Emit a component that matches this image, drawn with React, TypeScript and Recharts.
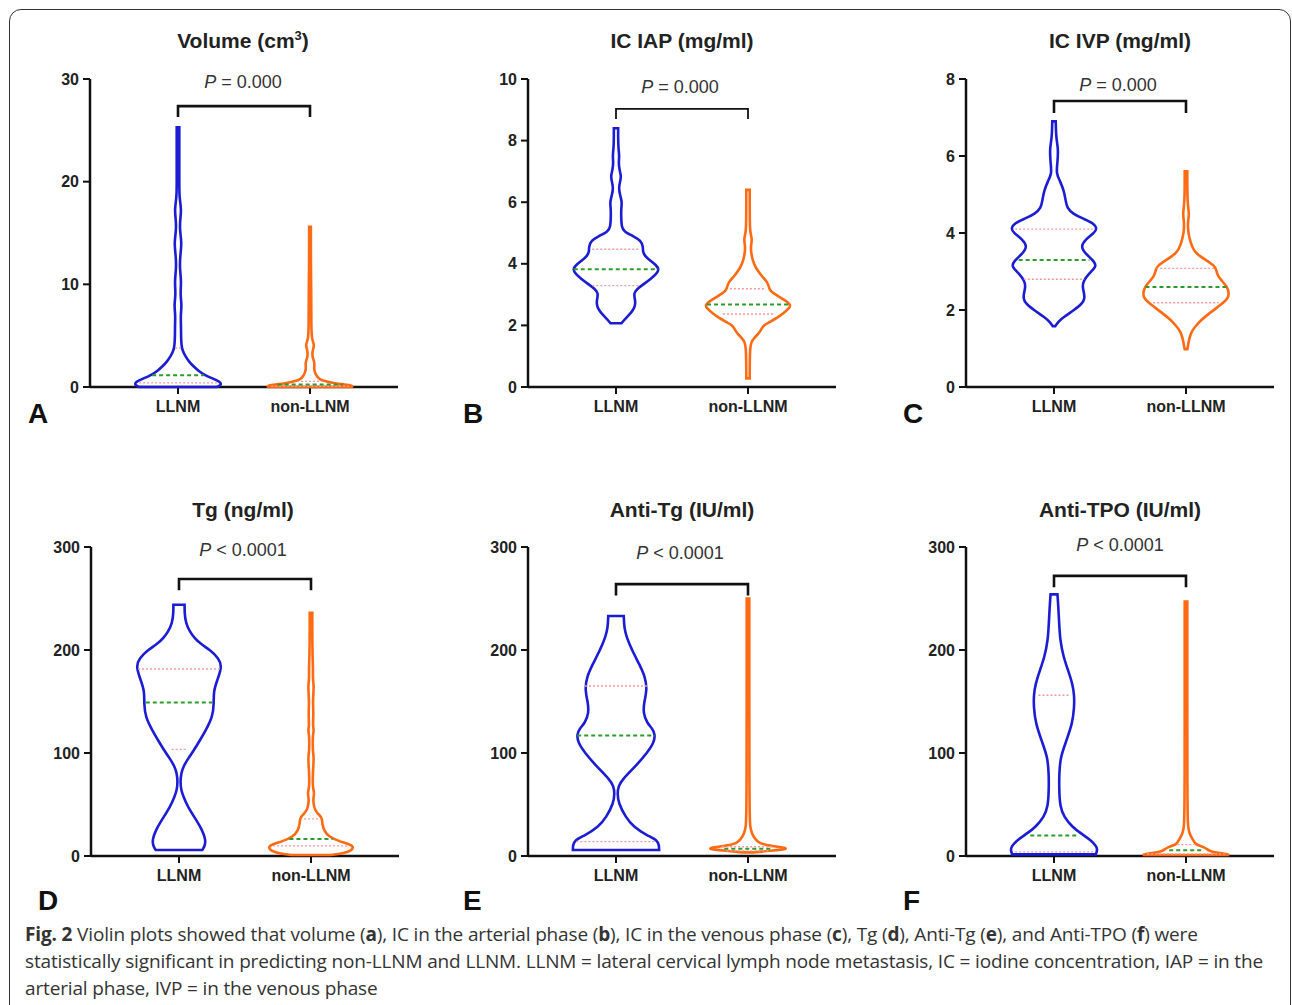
import { ScatterChart, Scatter, XAxis, YAxis } from "recharts";

const groups = ["LLNM", "non-LLNM"];
const groupX = [1, 2.5];

// violin outlines: [value, half width relative to the widest violin]
const volLLNM = [
  [0, 0.9], [0.15, 0.99], [0.45, 1.0], [0.75, 0.85], [1.15, 0.62], [1.6, 0.47], [2.0, 0.36],
  [2.5, 0.25], [3.0, 0.17], [3.5, 0.11], [4.0, 0.08], [5.0, 0.07], [6.0, 0.07], [7.0, 0.06],
  [8.0, 0.09], [9.0, 0.05], [10.3, 0.08], [11.5, 0.04], [12.8, 0.05], [14.0, 0.09], [15.3, 0.04],
  [16.3, 0.05], [17.3, 0.08], [18.5, 0.03], [20, 0.03], [22, 0.03], [25.3, 0.03],
];
const volNon = [
  [0, 0.97], [0.15, 1.0], [0.36, 0.55], [0.6, 0.3], [0.85, 0.19], [1.3, 0.12], [1.8, 0.09],
  [2.4, 0.11], [2.8, 0.06], [3.5, 0.05], [4.1, 0.11], [4.6, 0.04], [6, 0.03], [9, 0.03],
  [12, 0.02], [15.6, 0.02],
];
const iapLLNM = [
  [2.07, 0.13], [2.2, 0.2], [2.37, 0.33], [2.55, 0.42], [2.7, 0.45], [2.85, 0.44], [3.05, 0.41],
  [3.2, 0.5], [3.35, 0.65], [3.5, 0.8], [3.69, 0.95], [3.82, 1.0], [3.96, 0.93], [4.1, 0.8],
  [4.25, 0.67], [4.4, 0.62], [4.55, 0.63], [4.75, 0.58], [4.9, 0.4], [5.05, 0.18], [5.2, 0.13],
  [5.5, 0.12], [5.8, 0.12], [6.0, 0.14], [6.2, 0.1], [6.45, 0.06], [6.7, 0.1], [6.85, 0.12],
  [7.05, 0.08], [7.3, 0.06], [7.5, 0.08], [7.8, 0.05], [8.4, 0.05],
];
const iapNon = [
  [0.28, 0.04], [0.8, 0.04], [1.3, 0.05], [1.48, 0.08], [1.6, 0.15], [1.74, 0.25], [1.9, 0.32],
  [2.0, 0.36], [2.12, 0.52], [2.25, 0.68], [2.39, 0.82], [2.55, 0.95], [2.66, 1.0], [2.8, 0.88],
  [2.93, 0.72], [3.05, 0.58], [3.15, 0.5], [3.3, 0.48], [3.45, 0.42], [3.58, 0.33], [3.75, 0.24],
  [3.9, 0.17], [4.1, 0.11], [4.3, 0.08], [4.55, 0.06], [4.8, 0.1], [5.0, 0.05], [5.4, 0.04],
  [6.4, 0.04],
];
const ivpLLNM = [
  [1.58, 0.03], [1.7, 0.1], [1.82, 0.23], [2.0, 0.47], [2.17, 0.66], [2.3, 0.71], [2.43, 0.7],
  [2.6, 0.66], [2.75, 0.68], [2.95, 0.81], [3.12, 0.98], [3.25, 0.95], [3.47, 0.72], [3.65, 0.62],
  [3.82, 0.72], [4.0, 0.93], [4.1, 1.0], [4.25, 0.93], [4.38, 0.66], [4.5, 0.44], [4.65, 0.3],
  [4.85, 0.27], [5.1, 0.23], [5.35, 0.14], [5.55, 0.05], [5.8, 0.08], [6.2, 0.1], [6.45, 0.05],
  [6.9, 0.04],
];
const ivpNon = [
  [0.98, 0.03], [1.1, 0.05], [1.22, 0.07], [1.35, 0.1], [1.48, 0.15], [1.6, 0.24], [1.74, 0.35],
  [1.95, 0.58], [2.17, 0.85], [2.3, 0.97], [2.42, 1.0], [2.6, 0.96], [2.77, 0.82], [2.9, 0.73],
  [3.05, 0.7], [3.15, 0.66], [3.3, 0.46], [3.47, 0.23], [3.6, 0.16], [3.75, 0.11], [3.99, 0.05],
  [4.3, 0.04], [4.5, 0.08], [4.75, 0.03], [5.6, 0.03],
];
const tgLLNM = [
  [5.8, 0.54], [10, 0.6], [15.5, 0.62], [25, 0.54], [35, 0.4], [48, 0.2], [58, 0.1], [64, 0.05],
  [72, 0.03], [80, 0.05], [87, 0.1], [95, 0.22], [103, 0.35], [112, 0.48], [122, 0.62],
  [135, 0.78], [148, 0.81], [160, 0.8], [171, 0.89], [184, 1.0], [192, 0.92], [200, 0.72],
  [206, 0.5], [212, 0.35], [218, 0.25], [226, 0.16], [235, 0.13], [244, 0.13],
];
const tgNon = [
  [0.9, 0.45], [2.5, 0.75], [5, 0.93], [9, 1.0], [12, 0.85], [14, 0.68], [18.6, 0.41], [25, 0.3],
  [31, 0.26], [37, 0.26], [41, 0.16], [45, 0.09], [50, 0.06], [56, 0.05], [61, 0.08], [66, 0.04],
  [80, 0.04], [96, 0.07], [101, 0.04], [118, 0.04], [122, 0.07], [126, 0.04], [138, 0.06],
  [150, 0.04], [165, 0.07], [172, 0.04], [180, 0.05], [200, 0.03], [236, 0.03],
];
const atgLLNM = [
  [5.8, 1.0], [10, 1.0], [15.5, 0.96], [20, 0.72], [28, 0.41], [38, 0.22], [51, 0.06], [61, 0.03],
  [68, 0.06], [74, 0.14], [87, 0.45], [100, 0.72], [110, 0.88], [118, 0.91], [124, 0.84],
  [129, 0.72], [139, 0.63], [149, 0.65], [161, 0.72], [174, 0.68], [187, 0.53], [200, 0.37],
  [213, 0.24], [222, 0.19], [233, 0.18],
];
const atgNon = [
  [3.5, 0.12], [5, 0.5], [7, 1.0], [9, 0.7], [11, 0.35], [14, 0.22], [18, 0.14], [22, 0.09],
  [28, 0.05], [40, 0.03], [250, 0.03],
];
const tpoLLNM = [
  [1.6, 0.97], [5, 1.0], [9, 1.0], [15.5, 0.85], [22, 0.62], [28, 0.43], [38, 0.23], [48, 0.14],
  [64, 0.12], [80, 0.12], [96, 0.15], [110, 0.27], [129, 0.43], [145, 0.47], [156, 0.47],
  [167, 0.43], [180, 0.33], [193, 0.22], [210, 0.14], [226, 0.12], [242, 0.1], [254, 0.08],
];
const tpoNon = [
  [1, 1.0], [2.5, 0.9], [4, 0.55], [7.5, 0.47], [9.5, 0.35], [11, 0.23], [15.5, 0.16], [22, 0.08],
  [28, 0.04], [60, 0.03], [247, 0.03],
];

// quartile / median lines: [value, relative half width]  (q1, median, q3)
const volLLNMLines = [[0.4, 0.9], [1.15, 0.6], [3.8, 0.07]];
const volNonLines = [[0.08, 0.9], [0.25, 0.75], [0.55, 0.3]];
const iapLLNMLines = [[3.29, 0.55], [3.82, 0.98], [4.47, 0.55]];
const iapNonLines = [[2.37, 0.58], [2.68, 0.95], [3.19, 0.42]];
const ivpLLNMLines = [[2.8, 0.7], [3.3, 0.82], [4.1, 0.9]];
const ivpNonLines = [[2.19, 0.76], [2.6, 0.94], [3.08, 0.69]];
const tgLLNMLines = [[103.5, 0.17], [149, 0.77], [181.5, 0.95]];
const tgNonLines = [[9.8, 0.88], [16.5, 0.5], [36, 0.16]];
const atgLLNMLines = [[14, 0.92], [117, 0.9], [165, 0.72]];
const atgNonLines = [[5, 0.5], [7, 0.55], [9, 0.6]];
const tpoLLNMLines = [[4, 0.9], [20, 0.55], [156, 0.36]];
const tpoNonLines = [[2, 0.9], [5.5, 0.39], [11, 0.2]];

const titles = ["Volume (cm", "IC IAP (mg/ml)", "IC IVP (mg/ml)", "Tg (ng/ml)", "Anti-Tg (IU/ml)", "Anti-TPO (IU/ml)"];
const letters = ["A", "B", "C", "D", "E", "F"];
const pTexts = ["= 0.000", "= 0.000", "= 0.000", "< 0.0001", "< 0.0001", "< 0.0001"];
const yMax = [30, 10, 8, 300, 300, 300];
const yTicks = [
  [0, 10, 20, 30],
  [0, 2, 4, 6, 8, 10],
  [0, 2, 4, 6, 8],
  [0, 100, 200, 300],
  [0, 100, 200, 300],
  [0, 100, 200, 300],
];
// bracket: [top, leg end] in data units
const bracketY = [[27.36, 26.3], [9.03, 8.7], [7.43, 7.12], [269, 258], [264, 253], [272, 261]];

const violinData = [
  [volLLNM, volNon], [iapLLNM, iapNon], [ivpLLNM, ivpNon],
  [tgLLNM, tgNon], [atgLLNM, atgNon], [tpoLLNM, tpoNon],
];
const lineData = [
  [volLLNMLines, volNonLines], [iapLLNMLines, iapNonLines], [ivpLLNMLines, ivpNonLines],
  [tgLLNMLines, tgNonLines], [atgLLNMLines, atgNonLines], [tpoLLNMLines, tpoNonLines],
];

// layout (pixels)
const panelPos = [
  { ax: 90, top: 79, h: 308, title: [243, 41], p: [243, 82], letter: [28, 400] },
  { ax: 528, top: 79, h: 308, title: [682, 41], p: [680, 87], letter: [463, 400] },
  { ax: 966, top: 79, h: 308, title: [1120, 41], p: [1118, 85], letter: [903, 400] },
  { ax: 91, top: 547, h: 309, title: [243, 510], p: [243, 550], letter: [38, 887] },
  { ax: 528, top: 547, h: 309, title: [682, 510], p: [680, 553], letter: [463, 887] },
  { ax: 966, top: 547, h: 309, title: [1120, 510], p: [1120, 545], letter: [903, 887] },
];

const BLUE = "#1c1cd4";
const ORANGE = "#ff6a12";
const GREEN = "#2a9d2a";
const PINK = "#f49a9a";
const MAXW = 0.49;
const FONT = "'Liberation Sans', Arial, sans-serif";

const NoDot = () => <g />;

// closed outline; end points are repeated so the smoothed curve keeps its corners
function outline(center: number, prof: number[][]) {
  const ends = (arr: number[][]) => [arr[0], arr[0], ...arr, arr[arr.length - 1], arr[arr.length - 1]];
  const right = ends(prof).map(([v, w]) => ({ x: center + w * MAXW, y: v }));
  const left = ends([...prof].reverse()).map(([v, w]) => ({ x: center - w * MAXW, y: v }));
  const start = { x: center, y: prof[0][0] };
  return [start, start, ...right, ...left, start, start];
}

function segment(center: number, [v, w]: number[]) {
  return [
    { x: center - w * MAXW, y: v },
    { x: center + w * MAXW, y: v },
  ];
}

function Panel({ i }: { i: number }) {
  const pos = panelPos[i];
  const W = 440;
  const H = pos.h + 132;
  const [bTop, bLeg] = bracketY[i];
  const bracket = [
    { x: groupX[0], y: bLeg },
    { x: groupX[0], y: bTop },
    { x: groupX[1], y: bTop },
    { x: groupX[1], y: bLeg },
  ];
  const tick = { fill: "#222", fontSize: 16, fontWeight: 700, fontFamily: FONT };
  return (
    <div style={{ position: "absolute", left: pos.ax - 70, top: pos.top - 70 }}>
      <ScatterChart width={W} height={H} margin={{ top: 70, right: 62, bottom: 32, left: 30 }}>
        <XAxis
          type="number"
          dataKey="x"
          domain={[0, 3.5]}
          ticks={groupX}
          interval={0}
          tickFormatter={(v) => (v === groupX[0] ? groups[0] : groups[1])}
          tick={tick}
          tickSize={7}
          tickMargin={7}
          axisLine={{ stroke: "#111", strokeWidth: 2.5 }}
          tickLine={{ stroke: "#111", strokeWidth: 2 }}
        />
        <YAxis
          type="number"
          dataKey="y"
          domain={[0, yMax[i]]}
          ticks={yTicks[i]}
          interval={0}
          width={40}
          tick={tick}
          tickSize={7}
          tickMargin={4}
          axisLine={{ stroke: "#111", strokeWidth: 2.5 }}
          tickLine={{ stroke: "#111", strokeWidth: 2 }}
        />
        {violinData[i].map((prof, g) => (
          <Scatter
            key={"v" + g}
            data={outline(groupX[g], prof)}
            fill="none"
            shape={NoDot}
            line={{ stroke: g === 0 ? BLUE : ORANGE, strokeWidth: 2.6, fill: "none" }}
            lineJointType="basis"
            isAnimationActive={false}
          />
        ))}
        {lineData[i].map((ls, g) =>
          ls.map((l, k) => (
            <Scatter
              key={"l" + g + k}
              data={segment(groupX[g], l)}
              fill="none"
              shape={NoDot}
              line={
                k === 1
                  ? { stroke: GREEN, strokeWidth: 2, strokeDasharray: "4 3", fill: "none" }
                  : { stroke: PINK, strokeWidth: 1.4, strokeDasharray: "2 2", fill: "none" }
              }
              isAnimationActive={false}
            />
          ))
        )}
        <Scatter
          data={bracket}
          fill="none"
          shape={NoDot}
          line={{ stroke: "#111", strokeWidth: i === 1 ? 1.8 : 2.6, fill: "none" }}
          isAnimationActive={false}
        />
      </ScatterChart>
    </div>
  );
}

const abs = (x: number, y: number): React.CSSProperties => ({ position: "absolute", left: x, top: y });

export default function App() {
  return (
    <div
      style={{
        position: "absolute",
        left: 0,
        top: 0,
        width: 1292,
        height: 1005,
        overflow: "hidden",
        background: "#fff",
        fontFamily: FONT,
      }}
    >
      <div
        style={{
          position: "absolute",
          left: 9,
          top: 9,
          width: 1282,
          height: 1020,
          border: "1.5px solid #333",
          borderRadius: 12,
          boxSizing: "border-box",
        }}
      />
      {panelPos.map((pos, i) => (
        <div key={"t" + i}>
          <div
            style={{
              ...abs(pos.title[0] - 150, pos.title[1] - 13),
              width: 300,
              textAlign: "center",
              fontSize: 21,
              fontWeight: 700,
              color: "#222",
              lineHeight: "26px",
            }}
          >
            {titles[i]}
            {i === 0 && (
              <>
                <sup style={{ fontSize: 13, lineHeight: 0 }}>3</sup>)
              </>
            )}
          </div>
          <div
            style={{
              ...abs(pos.p[0] - 100, pos.p[1] - 11),
              width: 200,
              textAlign: "center",
              fontSize: 18,
              color: "#333",
              lineHeight: "22px",
            }}
          >
            <i>P</i> {pTexts[i]}
          </div>
          <div
            style={{
              ...abs(pos.letter[0], pos.letter[1]),
              fontSize: 28,
              fontWeight: 700,
              color: "#111",
              lineHeight: "28px",
            }}
          >
            {letters[i]}
          </div>
          <Panel i={i} />
        </div>
      ))}
      <div
        style={{
          ...abs(25, 921),
          fontFamily: "'Open Sans', sans-serif",
          fontSize: 19,
          lineHeight: "27px",
          color: "#333",
          letterSpacing: -0.15,
          whiteSpace: "nowrap",
        }}
      >
        <div>
          <b>Fig. 2</b> Violin plots showed that volume (<b>a</b>), IC in the arterial phase (<b>b</b>), IC in the
          venous phase (<b>c</b>), Tg (<b>d</b>), Anti-Tg (<b>e</b>), and Anti-TPO (<b>f</b>) were
        </div>
        <div>
          statistically significant in predicting non-LLNM and LLNM. LLNM = lateral cervical lymph node metastasis, IC =
          iodine concentration, IAP = in the
        </div>
        <div>arterial phase, IVP = in the venous phase</div>
      </div>
    </div>
  );
}
